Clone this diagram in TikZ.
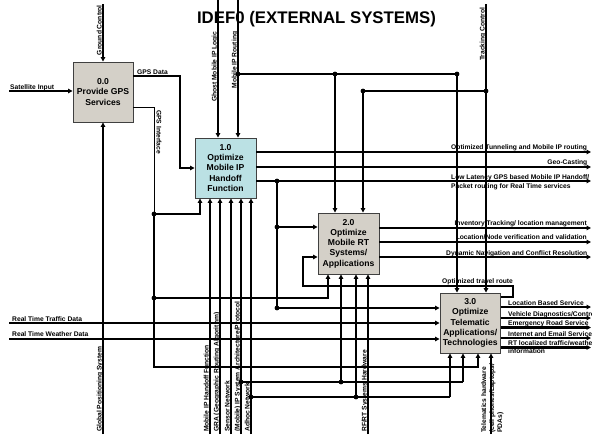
\documentclass[tikz,border=0pt]{standalone}
\usepackage{fontspec}
\setmainfont{Liberation Sans}
\usetikzlibrary{arrows.meta}
\definecolor{boxgray}{RGB}{212,208,200}
\definecolor{boxcyan}{RGB}{187,225,228}
\begin{document}
\begin{tikzpicture}[x=1pt,y=-1pt,
  fnbox/.style={draw=black!75, line width=0.9pt, fill=boxgray, align=center, inner sep=0pt,
    font=\bfseries\fontsize{8.6}{10.3}\selectfont},
  wire/.style={line width=2.1pt},
  midwire/.style={line width=1.3pt},
  thinwire/.style={line width=1pt},
  feed/.style={-{Triangle[length=4.5pt,width=4.5pt]}},
  lbl/.style={font=\bfseries\fontsize{6.7}{8}\selectfont, inner sep=0pt},
  vlbl/.style={lbl, rotate=90, anchor=base west},
  title/.style={font=\bfseries\fontsize{16.8}{18}\selectfont, inner sep=0pt, anchor=base}
]
\useasboundingbox (0,0) rectangle (592,434);

% activity boxes
\node[fnbox, minimum width=60pt, minimum height=60pt] (b0) at (103,92) {0.0\\Provide GPS\\Services};
\node[fnbox, fill=boxcyan, minimum width=61pt, minimum height=60pt] (b1) at (225.5,168) {1.0\\Optimize\\Mobile IP\\Handoff\\Function};
\node[fnbox, minimum width=61pt, minimum height=61pt] (b2) at (348.5,243.5) {2.0\\Optimize\\Mobile RT\\Systems/\\Applications};
\node[fnbox, minimum width=60.5pt, minimum height=60pt] (b3) at (470.25,323) {3.0\\Optimize\\Telematic\\Applications/\\Technologies};

% title
\node[title] (ttl) at (316.5,23.3) {IDEF0 (EXTERNAL SYSTEMS)};

% arrow labels
\node[lbl, anchor=base west] (tSat) at (10,89) {Satellite Input};
\node[lbl, anchor=base west] (tGpsData) at (137,74) {GPS Data};
\node[lbl, anchor=base west] (tRtt) at (12,321.5) {Real Time Traffic Data};
\node[lbl, anchor=base west] (tRtw) at (12,336.8) {Real Time Weather Data};
\node[lbl, rotate=90, anchor=base east] (tGc) at (101.5,5) {Ground Control};
\node[vlbl] (tGps) at (101.5,432) {Global Positioning System};
\node[lbl, rotate=-90, anchor=base west] (tGi) at (156.5,110) {GPS Interface};
\node[vlbl] (tGhost) at (216.5,102) {Ghost Mobile IP Logic};
\node[vlbl] (tMip) at (236.5,88.5) {Mobile IP Routing};
\node[vlbl] (tTc) at (484.5,61) {Tracking Control};
\node[vlbl] (tMihf) at (208.5,432) {Mobile IP Handoff Function};
\node[vlbl] (tGra) at (218.5,432) {GRA (Geographic Routing Algorithm)};
\node[vlbl] (tSn) at (229.5,432) {Sensor Network};
\node[vlbl] (tIps) at (239.5,432) {(Mobile) IP System Architecture/Protocol};
\node[vlbl] (tAh) at (249.5,432) {Adhoc Network};
\node[vlbl] (tRf) at (366.5,432) {RF/RT Systems Hardware};
\node[lbl, rotate=90, anchor=north west, align=left, font=\bfseries\fontsize{6.7}{8}\selectfont] (tTel) at (481,433)
  {Telematics hardware\\(cell phones/Laptops/\\PDAs)};

\node[lbl, anchor=base west] (tO1a) at (451,149.5) {Optimized Tunneling and Mobile IP routing};
\node[lbl, anchor=base east] (tO1b) at (587.5,164.5) {Geo-Casting};
\node[lbl, anchor=base west] (tO1c) at (451,179.3) {Low Latency GPS based Mobile IP Handoff/};
\node[lbl, anchor=base west] (tO1d) at (451,188) {Packet routing for Real Time services};
\node[lbl, anchor=base east] (tO2a) at (587,225.5) {Inventory Tracking/ location management};
\node[lbl, anchor=base east] (tO2b) at (587,239.5) {Location/Node verification and validation};
\node[lbl, anchor=base east] (tO2c) at (587.5,255) {Dynamic Navigation and Conflict Resolution};
\node[lbl, anchor=base west] (tTr) at (442,283.5) {Optimized travel route};
\node[lbl, anchor=base west] (tO3a) at (508,305) {Location Based Service};
\node[lbl, anchor=base west] (tO3b) at (508,316) {Vehicle Diagnostics/Control};
\node[lbl, anchor=base west] (tO3c) at (508,325.7) {Emergency Road Service};
\node[lbl, anchor=base west] (tO3d) at (508,336) {Internet and Email Service};
\node[lbl, anchor=base west] (tO3e) at (508,345.6) {RT localized traffic/weather};
\node[lbl, anchor=base west] (tO3f) at (508,353.5) {information};

% free ends, bends and junctions
\coordinate (satIn) at (9,91);
\coordinate (gcIn) at (103,4);
\coordinate (gpsIn) at (103,434);
\coordinate (gdBend) at (180,76);
\coordinate (giBend) at (154,107);
\coordinate (giJa) at (154,214);
\coordinate (giIn1) at (200,214);
\coordinate (giJb) at (154,298);
\coordinate (giIn2) at (328,298);
\coordinate (giLow) at (154,367);
\coordinate (giIn3) at (478,367);
\coordinate (ghostIn) at (218,0);
\coordinate (mipIn) at (238,0);
\coordinate (mipJ) at (238,74);
\coordinate (mipJ2) at (335,74);
\coordinate (mipJ3) at (457,74);
\coordinate (tcIn) at (486,4);
\coordinate (tcJ) at (486,91);
\coordinate (tcJ2) at (363,91);
\coordinate (out1a) at (591,152);
\coordinate (out1b) at (591,167);
\coordinate (out1c) at (591,181);
\coordinate (hoJ) at (277,181);
\coordinate (hoJ2) at (277,227);
\coordinate (hoJ3) at (277,308);
\coordinate (out2a) at (591,228);
\coordinate (out2b) at (591,242);
\coordinate (out2c) at (591,257);
\coordinate (trA) at (513,297);
\coordinate (trB) at (513,286);
\coordinate (trC) at (303,286);
\coordinate (trD) at (303,257);
\coordinate (rttIn) at (9,323);
\coordinate (rtwIn) at (9,339);
\coordinate (out3a) at (591,307);
\coordinate (out3b) at (591,318);
\coordinate (out3c) at (591,327.5);
\coordinate (out3d) at (591,338);
\coordinate (out3e) at (591,347.5);
\coordinate (mihfIn) at (210,434);
\coordinate (graIn) at (220,434);
\coordinate (snIn) at (231,434);
\coordinate (ipsIn) at (241,434);
\coordinate (ahIn) at (251,434);
\coordinate (ipsJ) at (241,382);
\coordinate (ipsJ2) at (341,382);
\coordinate (ipsIn3) at (463,382);
\coordinate (ahJ) at (251,397);
\coordinate (ahJ2) at (356,397);
\coordinate (ahIn3) at (450,397);
\coordinate (rfIn) at (368,434);
\coordinate (telIn) at (491,434);

% 0.0 Provide GPS Services
\draw[wire,feed] (satIn) -- (satIn -| b0.west);
\draw[wire,feed] (gcIn) -- (gcIn |- b0.north);
\draw[wire,feed] (gpsIn) -- (gpsIn |- b0.south);
\draw[midwire,feed] (b0.east |- gdBend) -- (gdBend) |- (b1.west);
\draw[thinwire] (b0.east |- giBend) -- (giBend) -- (giJa);
\draw[wire,feed] (giJa) -- (giIn1) -- (giIn1 |- b1.south);
\draw[wire] (giJa) -- (giJb);
\draw[wire,feed] (giJb) -- (giIn2) -- (giIn2 |- b2.south);
\draw[wire,feed] (giJb) -- (giLow) -- (giIn3) -- (giIn3 |- b3.south);

% controls from above
\draw[wire,feed] (ghostIn) -- (ghostIn |- b1.north);
\draw[wire,feed] (mipIn) -- (mipIn |- b1.north);
\draw[wire] (mipJ) -- (mipJ3);
\draw[wire,feed] (mipJ2) -- (mipJ2 |- b2.north);
\draw[wire,feed] (mipJ3) -- (mipJ3 |- b3.north);
\draw[wire,feed] (tcIn) -- (tcIn |- b3.north);
\draw[wire] (tcJ) -- (tcJ2);
\draw[wire,feed] (tcJ2) -- (tcJ2 |- b2.north);

% 1.0 outputs
\draw[wire,feed] (b1.east |- out1a) -- (out1a);
\draw[wire,feed] (b1.east |- out1b) -- (out1b);
\draw[wire,feed] (b1.east |- out1c) -- (out1c);
\draw[wire] (hoJ) -- (hoJ3);
\draw[wire,feed] (hoJ2) -- (hoJ2 -| b2.west);
\draw[wire,feed] (hoJ3) -- (hoJ3 -| b3.west);

% 2.0 outputs
\draw[wire,feed] (b2.east |- out2a) -- (out2a);
\draw[wire,feed] (b2.east |- out2b) -- (out2b);
\draw[wire,feed] (b2.east |- out2c) -- (out2c);

% feedback of the travel route from 3.0 to 2.0
\draw[midwire,feed] (b3.east |- trA) -- (trA) -- (trB) -- (trC) -- (trD) -- (trD -| b2.west);

% real time data into 3.0
\draw[wire,feed] (rttIn) -- (rttIn -| b3.west);
\draw[wire,feed] (rtwIn) -- (rtwIn -| b3.west);

% 3.0 outputs
\draw[wire,feed] (b3.east |- out3a) -- (out3a);
\draw[wire,feed] (b3.east |- out3b) -- (out3b);
\draw[wire,feed] (b3.east |- out3c) -- (out3c);
\draw[wire,feed] (b3.east |- out3d) -- (out3d);
\draw[wire,feed] (b3.east |- out3e) -- (out3e);

% mechanisms from below
\foreach \m in {mihfIn,graIn,snIn,ipsIn,ahIn}
  \draw[wire,feed] (\m) -- (\m |- b1.south);
\draw[wire] (ipsJ) -- (ipsIn3);
\draw[wire,feed] (ipsIn3) -- (ipsIn3 |- b3.south);
\draw[wire,feed] (ipsJ2) -- (ipsJ2 |- b2.south);
\draw[wire] (ahJ) -- (ahIn3);
\draw[wire,feed] (ahIn3) -- (ahIn3 |- b3.south);
\draw[wire,feed] (ahJ2) -- (ahJ2 |- b2.south);
\draw[wire,feed] (rfIn) -- (rfIn |- b2.south);
\draw[wire,feed] (telIn) -- (telIn |- b3.south);

% junction dots
\foreach \j in {mipJ,mipJ2,mipJ3,tcJ,tcJ2,giJa,giJb,hoJ,hoJ2,hoJ3,ipsJ,ipsJ2,ahJ,ahJ2}
  \fill (\j) circle[radius=2.4pt];
\end{tikzpicture}
\end{document}
